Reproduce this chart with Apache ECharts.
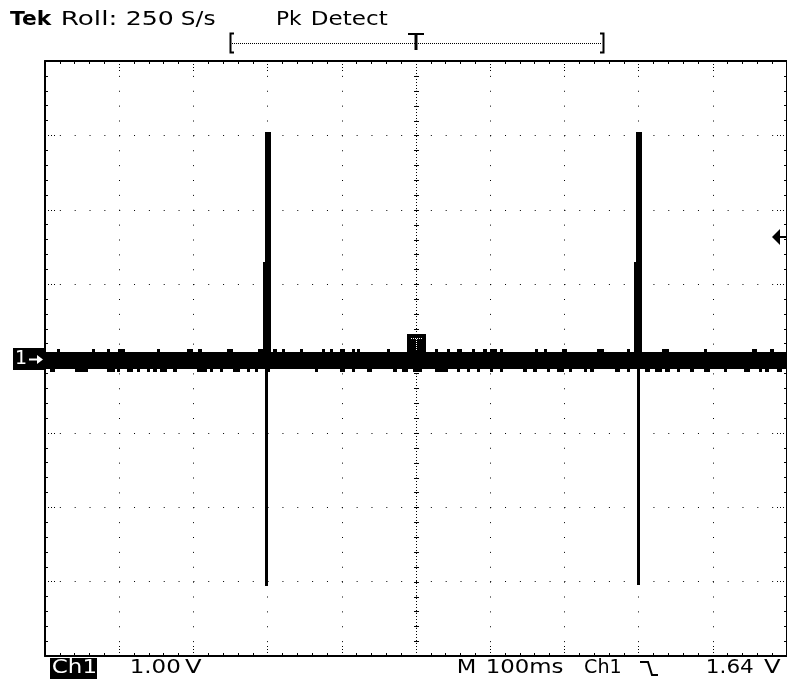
<!DOCTYPE html>
<html><head><meta charset="utf-8">
<script src="https://cdn.jsdelivr.net/npm/echarts@6/dist/echarts.min.js"></script>
<style>html,body{margin:0;padding:0;background:#fff}#c{width:787px;height:686px}</style>
</head><body><div id="c"></div>
<script>
// ---- Scope settings (time in ms, 100 ms/div; volts, 1 V/div) ----
const timeMin = 0, timeMax = 1000, timeDiv = 100;
const voltMin = -4, voltMax = 4, voltDiv = 1;
const triggerTime = 500;
const triggerLevel = 1.64;

// ---- Peak-detect trace: main noise band (V) ----
const bandHigh = 0.085;
const bandLow = -0.14;
// occasional noise peaks above / below the band (V)
const peakHigh = 0.125;
const peakLow = -0.185;

// upward noise bumps (ms)
const upBumpStart = [16, 63, 84, 98, 151, 191, 206, 245, 287, 307, 319, 344, 373, 384, 398, 414, 420, 461, 526, 542, 555, 575, 590, 600, 613, 660, 673, 697, 744, 784, 832, 888, 953, 977];
const upBumpEnd   = [20, 67, 88, 108, 155, 199, 212, 253, 297, 313, 323, 348, 377, 388, 404, 418, 425, 465, 530, 546, 562, 580, 596, 609, 617, 664, 677, 704, 753, 788, 841, 892, 960, 982];

// downward noise bumps (ms)
const downBumpStart = [7, 40, 84, 97, 111, 124, 137, 146, 155, 173, 205, 222, 236, 253, 272, 283, 299, 364, 398, 414, 434, 469, 481, 496, 526, 555, 569, 582, 600, 613, 644, 658, 677, 690, 706, 726, 734, 768, 784, 809, 822, 836, 852, 869, 888, 915, 942, 962, 970, 987];
const downBumpEnd   = [13, 58, 94, 101, 119, 128, 142, 151, 164, 178, 218, 226, 240, 263, 276, 287, 303, 368, 404, 418, 441, 474, 489, 508, 543, 559, 573, 586, 604, 617, 650, 663, 680, 699, 710, 730, 740, 775, 788, 815, 832, 842, 856, 875, 896, 919, 950, 966, 976, 993];

// spikes (ms, V)
const spikeStart = [294, 297, 297, 794, 797, 798];
const spikeEnd   = [305, 305, 300, 805, 805, 802];
const spikeLow   = [0, 0, -3.06, 0, 0, -3.05];
const spikeHigh  = [1.30, 3.04, 0, 1.30, 3.05, 0];

// ---- build trace rectangles [t0, t1, vLow, vHigh] ----
const traceRects = [[timeMin, timeMax, bandLow, bandHigh]];
upBumpStart.forEach((s, i) => traceRects.push([s, upBumpEnd[i], bandHigh, peakHigh]));
downBumpStart.forEach((s, i) => traceRects.push([s, downBumpEnd[i], peakLow, bandLow]));
spikeStart.forEach((s, i) => traceRects.push([s, spikeEnd[i], spikeLow[i], spikeHigh[i]]));

const chart = echarts.init(document.getElementById('c'), null, {renderer: 'canvas'});

function rectItem(params, api) {
  const a = api.coord([api.value(0), api.value(3)]);
  const b = api.coord([api.value(1), api.value(2)]);
  const x = Math.round(a[0]), y = Math.round(a[1]);
  return {
    type: 'rect',
    shape: {x: x, y: y, width: Math.max(1, Math.round(b[0]) - x), height: Math.max(1, Math.round(b[1]) - y)},
    style: {fill: '#000'}
  };
}

function graticuleItem(params, api) {
  const children = [];
  const top = api.coord([triggerTime, voltMax]);
  const bot = api.coord([triggerTime, voltMin]);
  const left = api.coord([timeMin, 0]);
  const right = api.coord([timeMax, 0]);
  const cx = Math.round(top[0]) + 0.5;
  const cy = Math.round(left[1]) + 0.5;
  const dash = {stroke: '#000', lineWidth: 1, lineDash: [1, 2]};
  children.push({type: 'line', shape: {x1: cx, y1: top[1], x2: cx, y2: bot[1]}, style: dash});
  children.push({type: 'line', shape: {x1: left[0], y1: cy, x2: right[0], y2: cy}, style: dash});
  const nV = (voltMax - voltMin) / voltDiv * 5;
  for (let i = 0; i <= nV; i++) {
    const p = api.coord([triggerTime, voltMin + i * voltDiv / 5]);
    const y = Math.round(p[1]) + 0.5;
    children.push({type: 'line', shape: {x1: cx - 2.5, y1: y, x2: cx + 2.5, y2: y}, style: {stroke: '#000', lineWidth: 1}});
  }
  const nT = (timeMax - timeMin) / timeDiv * 5;
  for (let i = 0; i <= nT; i++) {
    const p = api.coord([timeMin + i * timeDiv / 5, 0]);
    const x = Math.round(p[0]) + 0.5;
    children.push({type: 'line', shape: {x1: x, y1: cy - 2.5, x2: x, y2: cy + 2.5}, style: {stroke: '#000', lineWidth: 1}});
  }
  return {type: 'group', children: children};
}

const axisCommon = {
  axisLine: {show: true, onZero: false, lineStyle: {color: '#000', width: 2}},
  axisTick: {show: true, inside: true, length: 10, lineStyle: {color: '#000', width: 1, type: [1, 2]}},
  minorTick: {show: true, splitNumber: 5, length: 3, lineStyle: {color: '#000', width: 1}},
  axisLabel: {show: false},
  splitLine: {show: false}
};

const F = '"DejaVu Sans", sans-serif';
const mctx = document.createElement('canvas').getContext('2d');
// text fitted between x0 and x1 (reference extents)
function txt(x0, x1, y, s, opt) {
  opt = opt || {};
  const font = (opt.bold ? 'bold ' : '') + (opt.size || 20) + 'px ' + F;
  mctx.font = font;
  const m = mctx.measureText(s);
  const ink = (m.actualBoundingBoxRight || m.width) + (m.actualBoundingBoxLeft || 0);
  const left = -(m.actualBoundingBoxLeft || 0);
  const sx = (x1 - x0) / ink;
  return {type: 'text', x: x0 - left * sx, y: y, scaleX: sx, z: 100,
    style: {text: s, font: font, fill: opt.fill || '#000', verticalAlign: 'middle', align: 'left'}};
}

chart.setOption({
  animation: false,
  backgroundColor: '#fff',
  grid: {left: 45, top: 61, width: 742, height: 595, containLabel: false},
  xAxis: [
    Object.assign({type: 'value', min: timeMin, max: timeMax, interval: timeDiv, position: 'bottom'}, axisCommon,
      {splitLine: {show: true, lineStyle: {color: '#000', width: 1, type: [1, 13.875]}}}),
    Object.assign({type: 'value', min: timeMin, max: timeMax, interval: timeDiv, position: 'top'}, axisCommon)
  ],
  yAxis: [
    Object.assign({type: 'value', min: voltMin, max: voltMax, interval: voltDiv, position: 'left'}, axisCommon,
      {splitLine: {show: true, lineStyle: {color: '#000', width: 1, type: [1, 13.84]}}}),
    Object.assign({type: 'value', min: voltMin, max: voltMax, interval: voltDiv, position: 'right'}, axisCommon)
  ],
  series: [
    {type: 'custom', name: 'graticule', silent: true, z: 1, renderItem: graticuleItem, data: [[triggerTime, 0]]},
    {type: 'custom', name: 'Ch1', silent: true, z: 3, clip: true, renderItem: rectItem,
      encode: {x: [0, 1], y: [2, 3]}, data: traceRects}
  ]
});

// ---- annotations ----
const trig = chart.convertToPixel({gridIndex: 0}, [timeMax, triggerLevel]);
const zero = chart.convertToPixel({gridIndex: 0}, [timeMin, 0]);
const tMark = chart.convertToPixel({gridIndex: 0}, [triggerTime, 0]);
const ty = Math.round(trig[1]);
const zy = Math.round(zero[1]);
const tx = Math.round(tMark[0]);

chart.setOption({
  graphic: [
    txt(10, 52, 20, 'Tek', {bold: true}),
    txt(62, 115, 20, 'Roll:'),
    txt(127, 173, 20, '250'),
    txt(182, 215, 20, 'S/s'),
    txt(277, 302, 20, 'Pk'),
    txt(312, 388, 20, 'Detect'),
    // trigger position bar
    {type: 'polyline', z: 100, shape: {points: [[234, 33.5], [230.5, 33.5], [230.5, 52.5], [234, 52.5]]}, style: {stroke: '#000', lineWidth: 2, fill: null}},
    {type: 'polyline', z: 100, shape: {points: [[600, 33.5], [603.5, 33.5], [603.5, 52.5], [600, 52.5]]}, style: {stroke: '#000', lineWidth: 2, fill: null}},
    {type: 'line', z: 100, shape: {x1: 232, y1: 43.5, x2: 602, y2: 43.5}, style: {stroke: '#000', lineWidth: 1, lineDash: [1, 1]}},
    {type: 'line', z: 100, shape: {x1: 408, y1: 34, x2: 424, y2: 34}, style: {stroke: '#000', lineWidth: 2}},
    {type: 'line', z: 100, shape: {x1: tx, y1: 34, x2: tx, y2: 50}, style: {stroke: '#000', lineWidth: 3}},
    // channel 1 ground marker
    {type: 'rect', z: 100, shape: {x: 13, y: zy - 11, width: 32, height: 22}, style: {fill: '#000'}},
    txt(17, 26, zy, '1', {fill: '#fff', size: 19}),
    {type: 'line', z: 101, shape: {x1: 29, y1: zy + 0.5, x2: 39, y2: zy + 0.5}, style: {stroke: '#fff', lineWidth: 2}},
    {type: 'polygon', z: 101, shape: {points: [[43, zy + 0.5], [37, zy - 4], [37, zy + 5]]}, style: {fill: '#fff'}},
    // trigger marker on trace
    {type: 'rect', z: 100, shape: {x: tx - 9, y: zy - 25, width: 19, height: 18}, style: {fill: '#000'}},
    {type: 'line', z: 101, shape: {x1: tx - 5, y1: zy - 20.5, x2: tx + 6, y2: zy - 20.5}, style: {stroke: '#fff', lineWidth: 1, lineDash: [1, 1]}},
    {type: 'line', z: 101, shape: {x1: tx + 0.5, y1: zy - 20, x2: tx + 0.5, y2: zy - 9}, style: {stroke: '#fff', lineWidth: 1, lineDash: [1, 1]}},
    // trigger level arrow
    {type: 'polygon', z: 100, shape: {points: [[772, ty], [780, ty - 8], [780, ty + 8]]}, style: {fill: '#000'}},
    {type: 'line', z: 100, shape: {x1: 778, y1: ty, x2: 787, y2: ty}, style: {stroke: '#000', lineWidth: 2}},
    // bottom status line
    {type: 'rect', z: 100, shape: {x: 50, y: 658, width: 47, height: 21}, style: {fill: '#000'}},
    txt(53, 95, 668, 'Ch1', {fill: '#fff'}),
    txt(132, 180, 668, '1.00'),
    txt(185, 202, 668, 'V'),
    txt(458, 475, 668, 'M'),
    txt(488, 563, 668, '100ms'),
    txt(585, 620, 668, 'Ch1'),
    {type: 'polyline', z: 100, shape: {points: [[640, 662], [648, 662], [652, 675], [658, 675]]}, style: {stroke: '#000', lineWidth: 2, fill: null}},
    txt(708, 753, 668, '1.64'),
    txt(764, 781, 668, 'V')
  ]
});
</script>
</body></html>
